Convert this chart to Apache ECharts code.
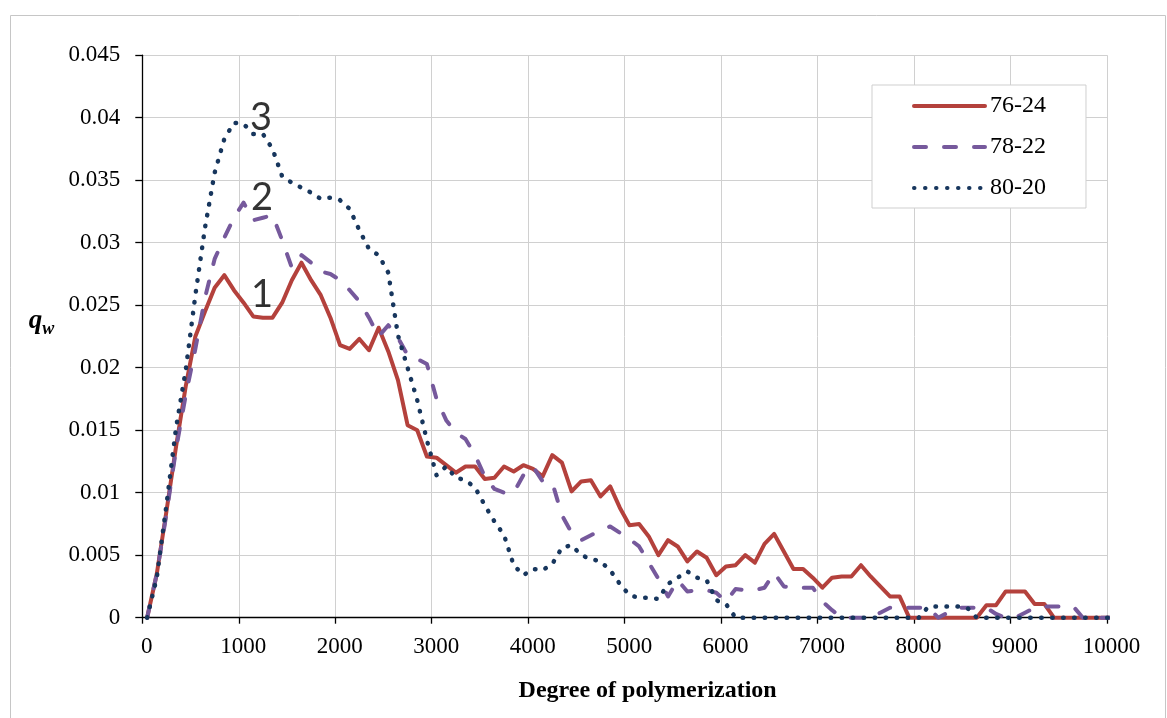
<!DOCTYPE html>
<html>
<head>
<meta charset="utf-8">
<script src="https://cdn.jsdelivr.net/npm/echarts@6/dist/echarts.min.js"></script>
<style>
html,body{margin:0;padding:0;background:#fff;}
#chart{width:1167px;height:718px;}
</style>
</head>
<body>
<div id="chart"></div>
<script>
// Degree of polymerization (bin centres)
const dp = [50,150,250,350,450,550,650,750,850,950,
  1050,1150,1250,1350,1450,1550,1650,1750,1850,1950,
  2050,2150,2250,2350,2450,2550,2650,2750,2850,2950,
  3050,3150,3250,3350,3450,3550,3650,3750,3850,3950,
  4050,4150,4250,4350,4450,4550,4650,4750,4850,4950,
  5050,5150,5250,5350,5450,5550,5650,5750,5850,5950,
  6050,6150,6250,6350,6450,6550,6650,6750,6850,6950,
  7050,7150,7250,7350,7450,7550,7650,7750,7850,7950,
  8050,8150,8250,8350,8450,8550,8650,8750,8850,8950,
  9050,9150,9250,9350,9450,9550,9650,9750,9850,9950,10050];

const s7624 = [0,0.0035,0.0085,0.0137,0.0185,0.0225,0.0245,0.0264,0.0274,0.0262,
  0.0252,0.0241,0.0240,0.0240,0.0252,0.0270,0.0284,0.0270,0.0258,0.0240,
  0.0218,0.0215,0.0223,0.0214,0.0232,0.0213,0.0190,0.0154,0.0150,0.0129,
  0.0128,0.0122,0.0116,0.0121,0.0121,0.0111,0.0112,0.0121,0.0117,0.0122,
  0.0119,0.0113,0.0130,0.0124,0.0101,0.0109,0.0110,0.0097,0.0105,0.0088,
  0.0074,0.0075,0.0065,0.0050,0.0062,0.0057,0.0045,0.0053,0.0048,0.0034,
  0.0041,0.0042,0.0050,0.0044,0.0059,0.0067,0.0053,0.0039,0.0039,0.0032,
  0.0024,0.0032,0.0033,0.0033,0.0042,0.0033,0.0025,0.0017,0.0017,0,
  0,0,0,0,0,0,0,0.0010,0.0010,0.0021,
  0.0021,0.0021,0.0011,0.0011,0,0,0,0,0,0,0];

const s7822 = [0,0.0035,0.0083,0.0135,0.0178,0.0215,0.0256,0.0287,0.0304,0.0320,
  0.0332,0.0318,0.0320,0.0322,0.0302,0.0280,0.0290,0.0284,0.0277,0.0275,
  0.0270,0.0262,0.0253,0.0240,0.0225,0.0234,0.0224,0.0210,0.0207,0.0203,
  0.0175,0.0158,0.0148,0.0143,0.0130,0.0113,0.0103,0.0100,0.0100,0.0114,
  0.0121,0.0109,0.0108,0.0082,0.0068,0.0062,0.0066,0.0070,0.0073,0.0068,
  0.0063,0.0057,0.0044,0.0031,0.0017,0.0030,0.0021,0.0022,0.0022,0.0020,
  0.0013,0.0023,0.0022,0.0022,0.0024,0.0036,0.0025,0.0024,0.0024,0.0024,
  0.0013,0.0006,0,0,0,0,0.0004,0.0008,0.0008,0.0008,
  0.0008,0.0008,0,0.0004,0.0008,0.0008,0.0008,0.0008,0.0003,0,
  0,0.0004,0.0008,0.0009,0.0009,0.0009,0.0009,0,0,0,0];

const s8020 = [0,0.0032,0.0090,0.0152,0.0198,0.0258,0.0312,0.0356,0.0383,0.0396,
  0.0395,0.0387,0.0387,0.0375,0.0353,0.0348,0.0344,0.0340,0.0335,0.0336,
  0.0334,0.0327,0.0310,0.0295,0.0290,0.0276,0.0226,0.0200,0.0174,0.0142,
  0.0114,0.0121,0.0112,0.0110,0.0104,0.0090,0.0077,0.0066,0.0042,0.0034,
  0.0039,0.0038,0.0043,0.0056,0.0058,0.0050,0.0047,0.0045,0.0038,0.0027,
  0.0018,0.0016,0.0016,0.0015,0.0027,0.0032,0.0037,0.0032,0.0030,0.0014,
  0.0011,0,0,0,0,0,0,0,0,0,
  0,0,0,0,0,0,0,0,0,0,
  0,0.0009,0.0009,0.0009,0.0009,0.0008,0,0,0,0,
  0,0,0,0,0,0,0,0,0,0,0];

const seriesNames = ['76-24', '78-22', '80-20'];
const xTitle = 'Degree of polymerization';

// curve number annotations
const annLabels = ['1', '2', '3'];
const annX = [1241, 1241, 1230];
const annY = [0.0258, 0.0336, 0.0400];

const serif = 'Liberation Serif, Times New Roman, serif';
const chart = echarts.init(document.getElementById('chart'), null, {renderer: 'canvas'});

function pairs(vals) { return dp.map((x, i) => [x, vals[i]]); }

const option = {
  animation: false,
  backgroundColor: '#fff',
  graphic: [{
    type: 'rect', left: 8, top: 13, silent: true,
    shape: {x: 0, y: 0, width: 1155, height: 730},
    style: {fill: 'none', stroke: '#c6c6c6', lineWidth: 1}
  }],
  grid: {left: 142.3, right: 60, top: 55.2, bottom: 100.3, containLabel: false},
  legend: {
    data: seriesNames,
    orient: 'vertical',
    left: 872, top: 85,
    itemWidth: 71, itemHeight: 20, itemGap: 17,
    padding: [9, 40, 8, 40],
    borderColor: '#cfcfcf', borderWidth: 1, backgroundColor: '#fff',
    itemStyle: {opacity: 0},
    lineStyle: {width: 4},
    textStyle: {fontFamily: serif, fontSize: 24, color: '#000'}
  },
  xAxis: {
    type: 'value', min: 0, max: 10000, interval: 1000,
    name: xTitle, nameLocation: 'middle', nameGap: 61,
    nameTextStyle: {fontFamily: serif, fontSize: 24, fontWeight: 'bold', color: '#000', padding: [0, 0, 0, 46]},
    axisLine: {show: true, onZero: false, lineStyle: {color: '#000', width: 1.3}},
    axisTick: {show: true, inside: false, length: 6, lineStyle: {color: '#000', width: 1.3}},
    splitLine: {show: true, lineStyle: {color: '#d0d0d0', width: 1}},
    axisLabel: {fontFamily: serif, fontSize: 23, color: '#000', margin: 18, padding: [0, 0, 0, 9],
      formatter: v => String(v)}
  },
  yAxis: {
    type: 'value', min: 0, max: 0.045, interval: 0.005,
    name: '{q|q}{w|w}', nameLocation: 'middle', nameRotate: 0, nameGap: 88,
    nameTextStyle: {
      padding: [0, 0, 30, 0],
      rich: {
        q: {fontFamily: serif, fontSize: 27, fontWeight: 'bold', fontStyle: 'italic', color: '#000', lineHeight: 34, verticalAlign: 'middle'},
        w: {fontFamily: serif, fontSize: 18, fontWeight: 'bold', fontStyle: 'italic', color: '#000', lineHeight: 34, verticalAlign: 'bottom'}
      }
    },
    axisLine: {show: true, lineStyle: {color: '#000', width: 1.3}},
    axisTick: {show: true, inside: false, length: 7, lineStyle: {color: '#000', width: 1.3}},
    splitLine: {show: true, lineStyle: {color: '#d0d0d0', width: 1}},
    axisLabel: {fontFamily: serif, fontSize: 23, color: '#000', margin: 22,
      formatter: v => String(+v.toFixed(3))}
  },
  series: [
    {
      name: seriesNames[0], type: 'line', data: pairs(s7624),
      symbol: 'none', showSymbol: false, clip: false, z: 3,
      color: '#b4413c',
      lineStyle: {color: '#b4413c', width: 4, cap: 'round', join: 'round'},
      emphasis: {disabled: true}
    },
    {
      name: seriesNames[1], type: 'line', data: pairs(s7822),
      symbol: 'none', showSymbol: false, clip: false, z: 4,
      color: '#76599c',
      lineStyle: {color: '#76599c', width: 4, type: [12, 18], cap: 'round', join: 'round'},
      emphasis: {disabled: true}
    },
    {
      name: seriesNames[2], type: 'line', data: pairs(s8020),
      symbol: 'none', showSymbol: false, clip: false, z: 5,
      color: '#17365d',
      lineStyle: {color: '#17365d', width: 4.5, type: [0.5, 10.5], cap: 'round', join: 'round'},
      emphasis: {disabled: true}
    },
    {
      name: 'annotations', type: 'scatter', silent: true, z: 10,
      data: annX.map((x, i) => ({value: [x, annY[i]], name: annLabels[i]})),
      symbolSize: 1,
      itemStyle: {color: 'rgba(0,0,0,0)'},
      label: {show: true, position: 'inside', formatter: '{b}',
        fontFamily: 'Lato, Carlito, sans-serif', fontSize: 38, color: '#000'},
      emphasis: {disabled: true}
    }
  ]
};
chart.setOption(option);
</script>
</body>
</html>
